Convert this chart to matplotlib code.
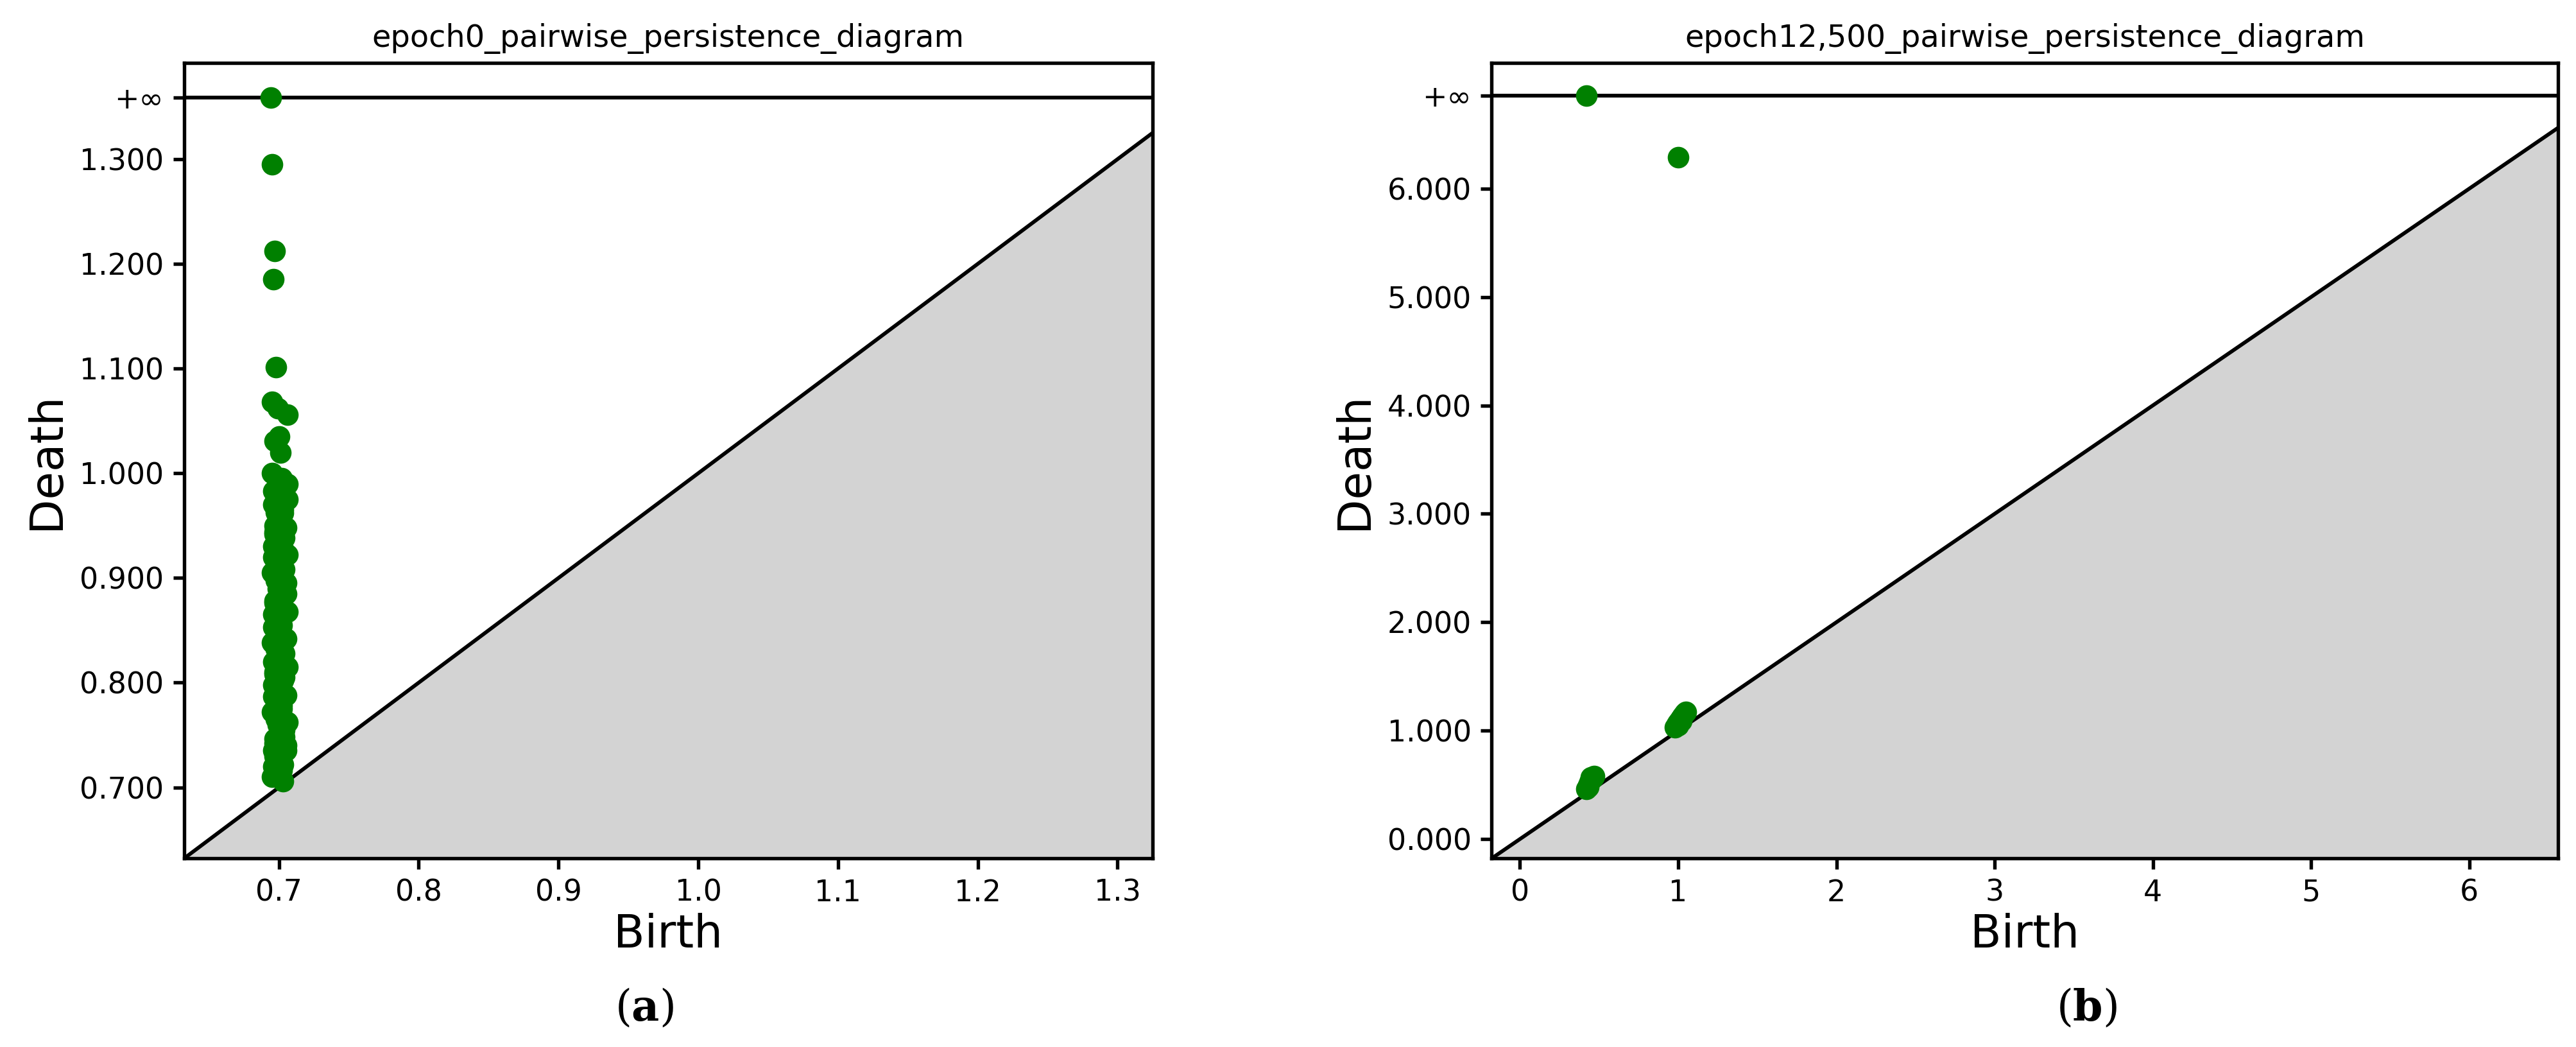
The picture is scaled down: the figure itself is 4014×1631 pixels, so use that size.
import matplotlib
matplotlib.use("Agg")
import matplotlib.pyplot as plt
plt.rcParams["mathtext.fontset"] = "dejavuserif"

# panel (a)
a_birth = [0.695,0.697,0.696,0.698,0.695,0.699,0.700,0.706,0.697,0.701,0.695,0.702,0.698,0.700,0.696,0.703,0.699,0.701,0.697,0.704,
           0.696,0.700,0.698,0.702,0.695,0.703,0.699,0.701,0.697,0.704,0.696,0.700,0.698,0.702,0.695,0.703,0.699,0.701,0.697,0.704,
           0.696,0.700,0.698,0.702,0.695,0.703,0.699,0.701,0.697,0.705,0.696,0.700,0.698,0.702,0.695,0.703,0.699,0.701,0.697,0.704,
           0.700,0.702,0.698,0.704,0.699,0.705,0.701,0.703,0.697,0.706,
           0.703,0.705,0.704,0.706,0.702,0.705,0.703,0.706,0.704,0.705,0.702,0.706,0.703,0.705,0.704,0.706,0.702,0.705,0.703,0.706,
           0.696,0.697,0.698,0.696,0.697,0.698,0.696,0.697,0.698,0.696,0.697,0.698,0.696,0.697,0.698,0.696,0.697,0.698,0.699,0.700]
a_death = [1.295,1.212,1.185,1.101,1.068,1.062,1.035,1.056,1.031,1.020,1.000,0.995,0.985,0.978,0.970,0.965,0.958,0.950,0.944,0.938,
           0.930,0.925,0.918,0.910,0.905,0.898,0.890,0.884,0.878,0.870,0.865,0.858,0.850,0.845,0.838,0.830,0.825,0.818,0.810,0.805,
           0.798,0.790,0.785,0.778,0.772,0.765,0.760,0.752,0.746,0.740,0.735,0.728,0.722,0.716,0.710,0.706,0.712,0.725,0.738,0.755,
           0.780,0.800,0.820,0.842,0.862,0.885,0.905,0.928,0.950,0.975,
           0.722,0.735,0.748,0.762,0.775,0.788,0.802,0.815,0.828,0.842,0.855,0.868,0.882,0.895,0.908,0.922,0.935,0.948,0.962,0.990,
           0.720,0.742,0.765,0.787,0.808,0.832,0.853,0.876,0.898,0.920,0.942,0.963,0.983,0.730,0.775,0.820,0.865,0.912,0.955,0.995]
a_inf_birth = [0.694]
# panel (b)
b_birth = [1.00,0.42,0.43,0.44,0.45,0.46,0.47,0.43,0.45,0.98,0.99,1.00,1.01,1.02,1.03,1.04,1.05,1.00,1.02]
b_death = [6.29,0.46,0.50,0.53,0.55,0.56,0.58,0.48,0.57,1.03,1.06,1.08,1.10,1.12,1.14,1.16,1.17,1.05,1.09]
b_inf_birth = [0.42]

panels = [
    dict(birth=a_birth, death=a_death, inf=a_inf_birth, lim=(0.632, 1.325), top=1.392, infy=1.359,
         yticks=[0.7,0.8,0.9,1.0,1.1,1.2,1.3], xticks=[0.7,0.8,0.9,1.0,1.1,1.2,1.3], fmt="{:.1f}",
         title="epoch0_pairwise_persistence_diagram", lab="a"),
    dict(birth=b_birth, death=b_death, inf=b_inf_birth, lim=(-0.18, 6.56), top=7.16, infy=6.86,
         yticks=[0,1,2,3,4,5,6], xticks=[0,1,2,3,4,5,6], fmt="{:g}",
         title="epoch12,500_pairwise_persistence_diagram", lab="b"),
]

fig = plt.figure(figsize=(4014/300, 1631/300), dpi=300)
rects = [[0.0714, 0.18, 0.376, 0.76], [0.579, 0.18, 0.414, 0.76]]
labx = [0.25, 0.81]
for p, r, lx in zip(panels, rects, labx):
    ax = fig.add_axes(r)
    lo, hi = p["lim"]
    ax.fill_between([lo, hi], [lo, lo], [lo, hi], color="lightgray", zorder=0)
    ax.plot([lo, hi], [lo, hi], color="black", lw=1.4)
    ax.axhline(p["infy"], color="black", lw=1.4)
    ax.scatter(p["birth"], p["death"], s=50, color="green", zorder=3)
    ax.scatter(p["inf"], [p["infy"]]*len(p["inf"]), s=50, color="green", zorder=3)
    ax.set_xlim(lo, hi)
    ax.set_ylim(lo, p["top"])
    for s in ax.spines.values():
        s.set_linewidth(1.3)
    ax.tick_params(width=1.3, length=4)
    ax.set_xticks(p["xticks"])
    ax.set_xticklabels([p["fmt"].format(v) for v in p["xticks"]], fontsize=11)
    ax.set_yticks(p["yticks"] + [p["infy"]])
    ax.set_yticklabels([f"{v:.3f}" for v in p["yticks"]] + ["+\u221e"], fontsize=11)
    ax.set_xlabel("Birth", fontsize=17, labelpad=2)
    ax.set_ylabel("Death", fontsize=17, labelpad=4)
    ax.set_title(p["title"], fontsize=11.5)
    fig.text(lx, 0.025, "(" + r"$\mathbf{" + p["lab"] + "}$" + ")", ha="center", fontsize=16, family="DejaVu Serif")

fig.savefig("out.png", dpi=300)
